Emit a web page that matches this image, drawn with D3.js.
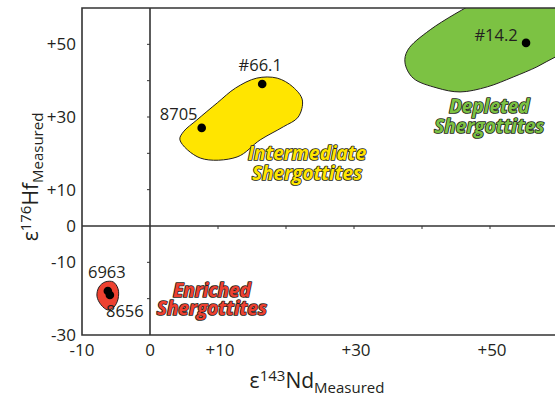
<!DOCTYPE html>
<html>
<head>
<meta charset="utf-8">
<script src="https://cdn.jsdelivr.net/npm/d3@7"></script>
<style>
  body { margin: 0; background: #fff; }
  text { font-family: "Open Sans", "Noto Sans", sans-serif; fill: #231f20; }
</style>
</head>
<body>
<script>
// sample points: eps Nd, eps Hf
const sampleNames = ['6963', '8656', '8705', '#66.1', '#14.2'];
const sampleNd = [-6.2, -5.9, 7.6, 16.5, 55.3];
const sampleHf = [-17.9, -19.0, 27.0, 39.1, 50.4];

// outlines of the three groups (eps Nd, eps Hf)
const enrichedNd = [-6.6, -5.4, -4.7, -4.7, -5.3, -6.2, -7.2, -7.8, -7.5];
const enrichedHf = [-15.4, -15.4, -17.3, -20.1, -22.3, -23.1, -21.7, -19.3, -16.8];
const intermediateNd = [4.4, 7.4, 12.8, 16.2, 19.6, 21.8, 22.4, 21.0, 18.7, 15.7, 12.6, 9.9, 6.9, 4.9];
const intermediateHf = [23.7, 18.7, 19.0, 23.7, 27.3, 30.0, 34.7, 38.3, 40.7, 40.7, 38.0, 33.9, 29.2, 25.9];
const depletedNd = [48.5, 41.2, 37.9, 37.5, 38.7, 42.2, 45.6, 49.6, 53.4, 56.9, 59.6, 62.5, 63.2, 60.3, 51.5];
const depletedHf = [62.2, 54.0, 48.4, 44.9, 40.7, 38.0, 36.9, 38.3, 41.0, 43.8, 46.5, 48.4, 56.7, 63.6, 65.0];

const groupNames = [['Enriched', 'Shergottites'], ['Intermediate', 'Shergottites'], ['Depleted', 'Shergottites']];
const groupColors = ['#ee4130', '#ffe500', '#7cc243'];
const groupLabelNd = [9.1, 23.1, 49.9];
const groupLabelHf = [-19.5, 18.2, 31.1];

const xTicks = [-10, 0, 10, 30, 50];
const yTicks = [50, 30, 10, 0, -10, -30];

const width = 555, height = 399;
const svg = d3.select('body').append('svg')
  .attr('width', width)
  .attr('height', height);

const x = d3.scaleLinear().domain([-10, 60]).range([82, 558]);
const y = d3.scaleLinear().domain([-30, 60]).range([335, 8]);

svg.append('clipPath').attr('id', 'plot')
  .append('rect')
  .attr('x', x(-10)).attr('y', y(60))
  .attr('width', x(60) - x(-10)).attr('height', y(-30) - y(60));

const fmt = (d) => d > 0 ? '+' + d : String(d);

// groups
const outline = d3.line()
  .x((d) => x(d[0]))
  .y((d) => y(d[1]))
  .curve(d3.curveCatmullRomClosed.alpha(0.5));

const groups = [
  d3.zip(enrichedNd, enrichedHf),
  d3.zip(intermediateNd, intermediateHf),
  d3.zip(depletedNd, depletedHf),
];

svg.append('g').attr('clip-path', 'url(#plot)')
  .selectAll('path')
  .data(groups)
  .join('path')
  .attr('d', outline)
  .attr('fill', (d, i) => groupColors[i])
  .attr('stroke', '#231f20')
  .attr('stroke-width', 1);

// frame
const frame = svg.append('g')
  .attr('stroke', '#333')
  .attr('stroke-width', 1.6)
  .attr('fill', 'none');
frame.append('path')
  .attr('d', `M${width},${y(60)}H${x(-10)}V${y(-30)}H${width}`);
frame.append('line')
  .attr('x1', x(0)).attr('x2', x(0))
  .attr('y1', y(60)).attr('y2', y(-30));
frame.append('line')
  .attr('x1', x(-10)).attr('x2', width)
  .attr('y1', y(0)).attr('y2', y(0));

// small ticks on the zero lines
const minorTicks = svg.append('g').attr('stroke', '#333').attr('stroke-width', 1);
minorTicks.selectAll('.yt')
  .data([50, 40, 30, 20, 10, -10, -20])
  .join('line')
  .attr('x1', x(0) - 3).attr('x2', x(0))
  .attr('y1', (d) => y(d)).attr('y2', (d) => y(d));
minorTicks.selectAll('.xt')
  .data([10, 20, 30, 40, 50])
  .join('line')
  .attr('x1', (d) => x(d)).attr('x2', (d) => x(d))
  .attr('y1', y(0)).attr('y2', y(0) + 3);

// tick labels
svg.append('g').selectAll('text')
  .data(yTicks)
  .join('text')
  .attr('x', 76)
  .attr('y', (d) => y(d) + 6)
  .attr('text-anchor', 'end')
  .attr('font-size', 17)
  .text(fmt);

svg.append('g').selectAll('text')
  .data(xTicks)
  .join('text')
  .attr('x', (d) => x(d) + (d > 0 ? 2 : 0))
  .attr('y', 356)
  .attr('text-anchor', 'middle')
  .attr('font-size', 17)
  .text(fmt);

// axis titles
const xTitle = svg.append('text')
  .attr('x', 317).attr('y', 388)
  .attr('text-anchor', 'middle')
  .attr('font-size', 21);
xTitle.append('tspan').text('ε');
xTitle.append('tspan').attr('font-size', 15).attr('baseline-shift', '45%').text('143');
xTitle.append('tspan').text('Nd');
xTitle.append('tspan').attr('font-size', 15).attr('baseline-shift', '-30%').text('Measured');

const yTitle = svg.append('text')
  .attr('transform', 'translate(38,177) rotate(-90)')
  .attr('text-anchor', 'middle')
  .attr('font-size', 21);
yTitle.append('tspan').text('ε');
yTitle.append('tspan').attr('font-size', 15).attr('baseline-shift', '45%').text('176');
yTitle.append('tspan').text('Hf');
yTitle.append('tspan').attr('font-size', 15).attr('baseline-shift', '-30%').text('Measured');

// sample points
const samples = d3.zip(sampleNames, sampleNd, sampleHf);
svg.append('g').selectAll('circle')
  .data(samples)
  .join('circle')
  .attr('cx', (d) => x(d[1]))
  .attr('cy', (d) => y(d[2]))
  .attr('r', 4.3)
  .attr('fill', '#000');

const labelDx = [-1, 15, -23, -2, -30];
const labelDy = [-13, 22, -8, -13, -2];
svg.append('g').selectAll('text')
  .data(samples)
  .join('text')
  .attr('x', (d, i) => x(d[1]) + labelDx[i])
  .attr('y', (d, i) => y(d[2]) + labelDy[i])
  .attr('text-anchor', 'middle')
  .attr('font-size', 16.5)
  .text((d) => d[0]);

// group labels, one text per line
const lineGap = [18, 20, 20];
groupNames.forEach((lines, i) => {
  lines.forEach((line, j) => {
    svg.append('text')
      .attr('x', x(groupLabelNd[i]))
      .attr('y', y(groupLabelHf[i]) + j * lineGap[i])
      .attr('text-anchor', 'middle')
      .attr('font-size', 19)
      .attr('font-weight', 'bold')
      .attr('font-style', 'italic')
      .style('fill', groupColors[i])
      .attr('stroke', '#231f20')
      .attr('stroke-width', 1.7)
      .attr('paint-order', 'stroke')
      .attr('stroke-linejoin', 'round')
      .text(line);
  });
});
</script>
</body>
</html>
